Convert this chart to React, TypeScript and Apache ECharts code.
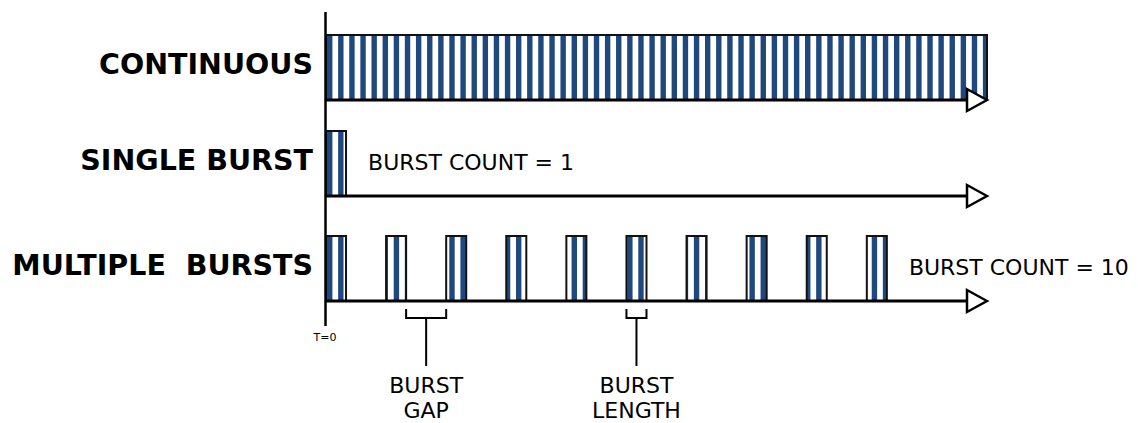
import React, { useEffect, useRef } from "react";
import * as echarts from "echarts";

// ---- data (time units; 1 unit = one burst length) ----
const ROW_LABELS = ["CONTINUOUS", "SINGLE BURST", "MULTIPLE  BURSTS"];
const BURST_COUNTS: (number | null)[] = [null, 1, 10];
const TIME_END = 33;
const BURST_LENGTH = 1;
const CONTINUOUS_SPAN = [0, 33];
const SINGLE_BURST_STARTS = [0];
const MULTIPLE_BURST_STARTS = [0, 3, 6, 9, 12, 15, 18, 21, 24, 27];
const BRACKET_SPANS = [
  [4, 6],
  [15, 16],
];
const BRACKET_LABELS = [
  ["BURST", "GAP"],
  ["BURST", "LENGTH"],
];
const T0_LABEL = "T=0";

// ---- styling / layout ----
const BLUE = "#1F497D";
const FONT = "'DejaVu Sans', Verdana, sans-serif";
const ROW_BASE = [100, 196, 301]; // y-axis units (inverted, pixel-like)
const PULSE_H = 65;
const STRIPE_PERIOD = 0.555;
const STRIPE_W = 0.27;
const STRIPE_OFFSET = 0.05;

type Burst = [number, number, number];
const burstData: Burst[] = [
  [0, CONTINUOUS_SPAN[0], CONTINUOUS_SPAN[1]],
  ...SINGLE_BURST_STARTS.map((s) => [1, s, s + BURST_LENGTH] as Burst),
  ...MULTIPLE_BURST_STARTS.map((s) => [2, s, s + BURST_LENGTH] as Burst),
];

const lastEnd = (row: number) =>
  Math.max(...burstData.filter((b) => b[0] === row).map((b) => b[2]));

const rowData = ROW_LABELS.map((_, i) => [i, TIME_END, lastEnd(i)]);
const bracketData = BRACKET_SPANS.map((s, i) => [s[0], s[1], i]);

export default function App() {
  const ref = useRef<HTMLDivElement>(null);
  useEffect(() => {
    if (!ref.current) return;
    const chart = echarts.init(ref.current, undefined, { renderer: "svg" });

    const renderBurst = (_p: any, api: any) => {
      const row = api.value(0);
      const s = api.value(1);
      const e = api.value(2);
      const base = ROW_BASE[row];
      const p0 = api.coord([s, base - PULSE_H]);
      const p1 = api.coord([e, base]);
      const children: any[] = [
        {
          type: "rect",
          shape: { x: p0[0], y: p0[1], width: p1[0] - p0[0], height: p1[1] - p0[1] },
          style: { fill: "#ffffff" },
        },
      ];
      const kStart = Math.floor((s - STRIPE_OFFSET) / STRIPE_PERIOD) - 1;
      const kEnd = Math.ceil((e - STRIPE_OFFSET) / STRIPE_PERIOD) + 1;
      for (let k = kStart; k <= kEnd; k++) {
        const xs = Math.max(s, STRIPE_OFFSET + k * STRIPE_PERIOD);
        const xe = Math.min(e, STRIPE_OFFSET + k * STRIPE_PERIOD + STRIPE_W);
        if (xe <= xs) continue;
        const a = api.coord([xs, base - PULSE_H]);
        const b = api.coord([xe, base]);
        children.push({
          type: "rect",
          shape: { x: a[0], y: a[1], width: b[0] - a[0], height: b[1] - a[1] },
          style: { fill: BLUE },
        });
      }
      children.push({
        type: "rect",
        shape: { x: p0[0], y: p0[1], width: p1[0] - p0[0], height: p1[1] - p0[1] },
        style: { fill: "none", stroke: "#111", lineWidth: 2 },
      });
      return { type: "group", children };
    };

    const renderRow = (_p: any, api: any) => {
      const row = api.value(0);
      const end = api.value(1);
      const last = api.value(2);
      const base = ROW_BASE[row];
      const a = api.coord([0, base]);
      const b = api.coord([end, base]);
      const mid = api.coord([0, base - 36]);
      const children: any[] = [
        {
          type: "line",
          shape: { x1: a[0], y1: a[1], x2: b[0] - 20, y2: b[1] },
          style: { stroke: "#000", lineWidth: 3 },
        },
        {
          type: "polygon",
          shape: {
            points: [
              [b[0], b[1]],
              [b[0] - 20, b[1] - 11],
              [b[0] - 20, b[1] + 11],
            ],
          },
          style: { fill: "#fff", stroke: "#000", lineWidth: 2.5, lineJoin: "miter" },
        },
        {
          type: "text",
          x: mid[0] - 13,
          y: mid[1],
          style: {
            text: ROW_LABELS[row],
            fill: "#000",
            fontSize: 28.5,
            fontWeight: "bold",
            fontFamily: FONT,
            align: "right",
            verticalAlign: "middle",
          },
        },
      ];
      const count = BURST_COUNTS[row];
      if (count !== null) {
        const c = api.coord([last + 1.1, base - 34]);
        children.push({
          type: "text",
          x: c[0],
          y: c[1],
          style: {
            text: "BURST COUNT = " + count,
            fill: "#000",
            fontSize: 22,
            fontFamily: FONT,
            align: "left",
            verticalAlign: "middle",
          },
        });
      }
      return { type: "group", children };
    };

    const renderBracket = (_p: any, api: any) => {
      const s = api.value(0);
      const e = api.value(1);
      const idx = api.value(2);
      const base = ROW_BASE[2];
      const a = api.coord([s, base]);
      const b = api.coord([e, base]);
      const m = (a[0] + b[0]) / 2;
      const y0 = a[1] + 8;
      const y1 = a[1] + 17;
      const labels = BRACKET_LABELS[idx];
      return {
        type: "group",
        children: [
          {
            type: "polyline",
            shape: { points: [[a[0], y0], [a[0], y1], [b[0], y1], [b[0], y0]] },
            style: { stroke: "#000", lineWidth: 2, fill: "none" },
          },
          {
            type: "line",
            shape: { x1: m, y1: y1, x2: m, y2: a[1] + 65 },
            style: { stroke: "#000", lineWidth: 2 },
          },
          ...labels.map((t: string, i: number) => ({
            type: "text",
            x: m,
            y: a[1] + 84 + i * 25,
            style: {
              text: t,
              fill: "#000",
              fontSize: 22,
              fontFamily: FONT,
              align: "center",
              verticalAlign: "middle",
            },
          })),
        ],
      };
    };

    const renderT0 = (_p: any, api: any) => {
      const top = api.coord([0, 12]);
      const bot = api.coord([0, 326]);
      return {
        type: "group",
        children: [
          {
            type: "line",
            shape: { x1: top[0] - 0.5, y1: top[1], x2: bot[0] - 0.5, y2: bot[1] },
            style: { stroke: "#000", lineWidth: 2.5 },
          },
          {
            type: "text",
            x: bot[0] - 1,
            y: bot[1] + 11,
            style: {
              text: T0_LABEL,
              fill: "#000",
              fontSize: 11,
              fontFamily: FONT,
              align: "center",
              verticalAlign: "middle",
            },
          },
        ],
      };
    };

    chart.setOption({
      animation: false,
      backgroundColor: "#ffffff",
      grid: { left: 326, right: 1138 - 987, top: 0, bottom: 0 },
      xAxis: { type: "value", min: 0, max: TIME_END, show: false },
      yAxis: { type: "value", min: 0, max: 423, inverse: true, show: false },
      series: [
        {
          type: "custom",
          coordinateSystem: "cartesian2d",
          data: burstData,
          renderItem: renderBurst,
          clip: false,
          silent: true,
          z: 2,
        },
        {
          type: "custom",
          coordinateSystem: "cartesian2d",
          data: rowData,
          renderItem: renderRow,
          clip: false,
          silent: true,
          z: 3,
        },
        {
          type: "custom",
          coordinateSystem: "cartesian2d",
          data: bracketData,
          renderItem: renderBracket,
          clip: false,
          silent: true,
          z: 3,
        },
        {
          type: "custom",
          coordinateSystem: "cartesian2d",
          data: [[0]],
          renderItem: renderT0,
          clip: false,
          silent: true,
          z: 4,
        },
      ],
    });
    return () => chart.dispose();
  }, []);

  return (
    <div
      ref={ref}
      style={{ position: "absolute", left: 0, top: 0, width: 1138, height: 423, background: "#fff" }}
    />
  );
}
